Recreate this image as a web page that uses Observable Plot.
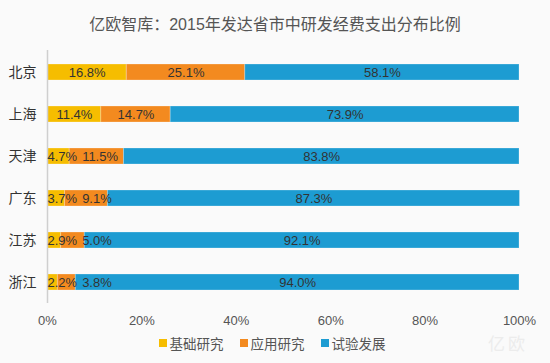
<!DOCTYPE html>
<html>
<head>
<meta charset="utf-8">
<script src="https://cdn.jsdelivr.net/npm/d3@7"></script>
<script src="https://cdn.jsdelivr.net/npm/@observablehq/plot@0.6"></script>
<style>
  html, body { margin: 0; padding: 0; background: #fafafa; }
  body { width: 550px; height: 363px; position: relative; overflow: hidden;
         font-family: "Liberation Sans", "Noto Sans CJK SC", sans-serif; }
  #title { height: 50px; line-height: 50px; text-align: center; font-size: 16px; color: #555;
           font-family: "Liberation Sans", "Noto Sans CJK SC", sans-serif; }
  #legend { height: 33px; display: flex; justify-content: center; align-items: center; gap: 16px;
            font-size: 13.5px; color: #555; font-family: "Noto Sans CJK SC", sans-serif; margin-left: -6px; margin-top: -4px; }
  .item { display: flex; align-items: center; gap: 3px; }
  .sw { width: 8px; height: 8px; display: inline-block; }
  #wm { position: absolute; left: 488px; top: 330px; font-size: 17px; color: #ececec;
        font-family: "Noto Sans CJK SC", sans-serif; letter-spacing: 3px; }
</style>
</head>
<body>
<div id="title">亿欧智库：2015年发达省市中研发经费支出分布比例</div>
<div id="chart"></div>
<div id="legend"></div>
<div id="wm">亿欧</div>
<script>
const cities = ["北京", "上海", "天津", "广东", "江苏", "浙江"];
const types = ["基础研究", "应用研究", "试验发展"];
const basic = [16.8, 11.4, 4.7, 3.7, 2.9, 2.2];
const applied = [25.1, 14.7, 11.5, 9.1, 5.0, 3.8];
const experimental = [58.1, 73.9, 83.8, 87.3, 92.1, 94.0];
const colors = ["#F6BD00", "#F38A1F", "#1D9CD2"];
const xTicks = [0, 20, 40, 60, 80, 100];

const series = [basic, applied, experimental];
const rows = [];
cities.forEach((c, i) => types.forEach((t, j) => rows.push({city: c, type: t, value: series[j][i]})));

const W = 550, H = 280, mL = 47, mR = 31, mT = 0, mB = 27;
const pxPerUnit = (W - mL - mR) / 100;
const ctx = document.createElement("canvas").getContext("2d");
ctx.font = "13px 'Liberation Sans'";
const fmt = v => v.toFixed(1) + "%";

// label placement: centered in segment, pushed right to avoid overlap
const labels = [];
cities.forEach((c, i) => {
  let cum = 0, prevRight = -Infinity;
  types.forEach((t, j) => {
    const v = series[j][i];
    const txt = fmt(v);
    const w = ctx.measureText(txt).width;
    let cx = mL + (cum + v / 2) * pxPerUnit;
    let left = cx - w / 2;
    if (j === 0 && left < mL) left = mL;
    if (left < prevRight + 5) left = prevRight + 5;
    cx = left + w / 2;
    prevRight = left + w;
    labels.push({city: c, x: (cx - mL) / pxPerUnit, text: txt});
    cum += v;
  });
});

const plot = Plot.plot({
  width: W, height: H,
  marginLeft: mL, marginRight: mR, marginTop: mT, marginBottom: mB,
  style: {background: "transparent", fontFamily: "'Liberation Sans', 'Noto Sans CJK SC', sans-serif"},
  x: {domain: [0, 100], ticks: xTicks, tickFormat: d => d + "%", tickSize: 0, tickPadding: 12, label: null},
  y: {domain: cities, padding: 0, tickSize: 0, tickPadding: 11, label: null},
  color: {domain: types, range: colors},
  marks: [
    Plot.barX(rows, {x: "value", y: "city", fill: "type", insetTop: 13, insetBottom: 13,
                     stroke: "#ffffff", strokeOpacity: 0.25, strokeWidth: 1}),
    Plot.ruleX([0], {stroke: "#cfcfcf", strokeWidth: 1.5}),
    Plot.text(labels, {x: "x", y: "city", text: "text", fill: "#333", fontSize: 13})
  ]
});
d3.select(plot).selectAll('[aria-label="y-axis tick label"]').attr("fill", "#333").attr("font-size", 14)
  .style("font-family", "'Noto Sans CJK SC', sans-serif");
d3.select(plot).selectAll('[aria-label="x-axis tick label"]').attr("fill", "#555").attr("font-size", 13);
document.getElementById("chart").appendChild(plot);

const leg = document.getElementById("legend");
types.forEach((t, j) => {
  const it = document.createElement("div");
  it.className = "item";
  it.innerHTML = `<span class="sw" style="background:${colors[j]}"></span><span>${t}</span>`;
  leg.appendChild(it);
});
</script>
</body>
</html>
